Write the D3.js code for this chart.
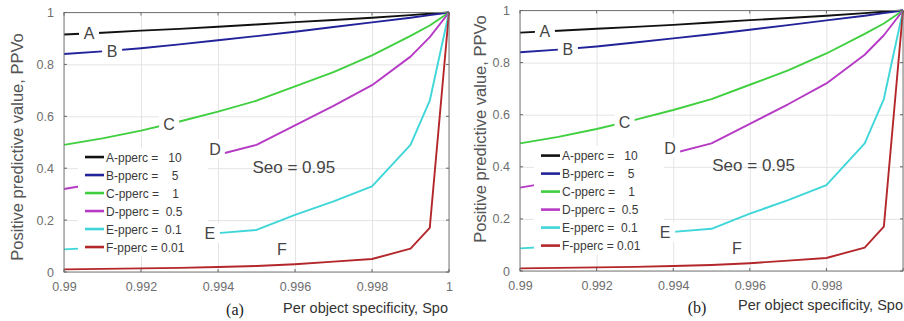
<!DOCTYPE html>
<html><head><meta charset="utf-8">
<script src="https://cdn.jsdelivr.net/npm/d3@7"></script>
<style>
html,body{margin:0;padding:0;background:#fff;}
svg{display:block;font-family:Arial,"Liberation Sans",sans-serif;}
</style></head>
<body><svg id="c" width="904" height="321"></svg>
<script>
// ---------- data ----------
const spo = [0.99, 0.991, 0.992, 0.993, 0.994, 0.995, 0.996, 0.997, 0.998, 0.999, 0.9995, 1];
const seriesA = [0.915, 0.922, 0.930, 0.937, 0.945, 0.954, 0.963, 0.971, 0.980, 0.990, 0.995, 1];
const seriesB = [0.840, 0.850, 0.862, 0.877, 0.893, 0.909, 0.926, 0.944, 0.962, 0.980, 0.990, 1];
const seriesC = [0.490, 0.515, 0.545, 0.580, 0.618, 0.660, 0.715, 0.770, 0.835, 0.910, 0.950, 1];
const seriesD = [0.320, 0.345, 0.372, 0.408, 0.452, 0.490, 0.565, 0.640, 0.720, 0.830, 0.905, 1];
const seriesE = [0.087, 0.095, 0.105, 0.122, 0.150, 0.162, 0.220, 0.272, 0.330, 0.490, 0.660, 1];
const seriesF = [0.010, 0.012, 0.014, 0.016, 0.019, 0.023, 0.030, 0.040, 0.050, 0.090, 0.170, 1];
const seriesNames = ["A", "B", "C", "D", "E", "F"];
const legendLabels = ["A-pperc =   10", "B-pperc =    5", "C-pperc =    1", "D-pperc =  0.5", "E-pperc =  0.1", "F-pperc = 0.01"];
const xTicks = [0.99, 0.992, 0.994, 0.996, 0.998, 1];
const xTickLabels = ["0.99", "0.992", "0.994", "0.996", "0.998", "1"];
const yTicks = [0, 0.2, 0.4, 0.6, 0.8, 1];
const yTickLabels = ["0", "0.2", "0.4", "0.6", "0.8", "1"];
const panelCaptions = ["(a)", "(b)"];
const annotation = "Seo = 0.95";
const xTitle = "Per object specificity, Spo";
const yTitle = "Positive predictive value, PPVo";

const allSeries = [seriesA, seriesB, seriesC, seriesD, seriesE, seriesF];
const colors = ["#111111", "#22229a", "#3fcf3f", "#b53ac4", "#3fd6d9", "#b3272a"];

const svg = d3.select("#c");
svg.append("rect").attr("width", 904).attr("height", 321).attr("fill", "#fff");

const panels = [
  {x0: 64, x1: 449, yb: 272, yt: 12.5, yl: {x: 17, y: 147}, cap: {x: 235, y: 315}, xt: {x: 283, y: 313}},
  {x0: 520, x1: 903, yb: 271, yt: 10.5, yl: {x: 480, y: 129}, cap: {x: 697, y: 313}, xt: {x: 738, y: 310}}
];

const labelX = [0.99065, 0.99125, 0.99273, 0.99392, 0.99379, 0.99566];

panels.forEach((p, pi) => {
  const x = d3.scaleLinear().domain([0.99, 1]).range([p.x0, p.x1]);
  const y = d3.scaleLinear().domain([0, 1]).range([p.yb, p.yt]);
  const g = svg.append("g");
  const W = p.x1 - p.x0, H = p.yb - p.yt;

  // grid
  const gx = g.append("g").attr("transform", `translate(0,${p.yb})`)
    .call(d3.axisBottom(x).tickValues(xTicks).tickSize(-H).tickFormat(""));
  gx.select(".domain").remove();
  gx.selectAll("line").attr("stroke", "#e4e4e4");
  const gy = g.append("g").attr("transform", `translate(${p.x0},0)`)
    .call(d3.axisLeft(y).tickValues(yTicks).tickSize(-W).tickFormat(""));
  gy.select(".domain").remove();
  gy.selectAll("line").attr("stroke", "#e4e4e4");

  // tick labels (labels beyond the picture edge are not shown, as in the source)
  const visTicks = xTicks.filter(t => x(t) + 4 < 904);
  const xl = g.append("g").attr("transform", `translate(0,${p.yb})`)
    .call(d3.axisBottom(x).tickValues(visTicks).tickSize(0).tickPadding(10)
      .tickFormat(d => xTickLabels[xTicks.indexOf(d)]));
  xl.select(".domain").remove();
  xl.selectAll("text").attr("font-size", 12.5).attr("fill", "#6e6e6e")
    .attr("font-family", "Arial, 'Liberation Sans', sans-serif");
  const yl = g.append("g").attr("transform", `translate(${p.x0},0)`)
    .call(d3.axisLeft(y).tickValues(yTicks).tickSize(0).tickPadding(10)
      .tickFormat((d, i) => yTickLabels[i]));
  yl.select(".domain").remove();
  yl.selectAll("text").attr("font-size", 12.5).attr("fill", "#6e6e6e")
    .attr("font-family", "Arial, 'Liberation Sans', sans-serif");

  // series lines
  const line = d3.line().x((d, i) => x(spo[i])).y(d => y(d));
  allSeries.forEach((s, si) => {
    g.append("path").datum(s).attr("d", line).attr("fill", "none")
      .attr("stroke", colors[si]).attr("stroke-width", 1.9).attr("stroke-linejoin", "round");
  });

  // legend background (hides lines behind it)
  g.append("rect").attr("x", p.x0 + 14).attr("y", y(0.48))
    .attr("width", 130).attr("height", y(0.062) - y(0.48)).attr("fill", "#fff");
  const lg = g.append("g");
  legendLabels.forEach((t, i) => {
    const ry = y(0.443) + i * 18;
    lg.append("line").attr("x1", p.x0 + 21).attr("x2", p.x0 + 40)
      .attr("y1", ry).attr("y2", ry).attr("stroke", colors[i]).attr("stroke-width", 2.6);
    lg.append("text").attr("x", p.x0 + 42).attr("y", ry + 4.5)
      .attr("font-size", 12).attr("fill", "#3a3a3a")
      .attr("xml:space", "preserve").style("white-space", "pre").text(t);
  });

  // inline series labels with white background
  seriesNames.forEach((n, si) => {
    const lx = x(labelX[si]);
    let ly;
    if (si === 5) ly = y(0.089);
    else if (si === 3) ly = y(0.474);
    else if (si === 4) ly = y(0.150);
    else {
      const v = d3.scaleLinear().domain(spo).range(allSeries[si])(labelX[si]);
      ly = y(v);
    }
    g.append("rect").attr("x", lx - 10).attr("y", ly - 10).attr("width", 20).attr("height", 20).attr("fill", "#fff");
    g.append("text").attr("x", lx).attr("y", ly + 6).attr("text-anchor", "middle")
      .attr("font-size", 16).attr("fill", "#454545").text(n);
  });

  g.append("text").attr("x", x(0.99597) + (pi ? 5 : 0)).attr("y", y(0.405) + 6).attr("text-anchor", "middle")
    .attr("font-size", 17).attr("fill", "#454545").text(annotation);

  // box
  g.append("rect").attr("x", p.x0).attr("y", p.yt).attr("width", W).attr("height", H)
    .attr("fill", "none").attr("stroke", "#7a7a7a").attr("stroke-width", 1);
  // inward ticks
  xTicks.forEach(t => {
    g.append("line").attr("x1", x(t)).attr("x2", x(t)).attr("y1", p.yb).attr("y2", p.yb - 3).attr("stroke", "#666");
    g.append("line").attr("x1", x(t)).attr("x2", x(t)).attr("y1", p.yt).attr("y2", p.yt + 3).attr("stroke", "#666");
  });
  yTicks.forEach(t => {
    g.append("line").attr("x1", p.x0).attr("x2", p.x0 + 3).attr("y1", y(t)).attr("y2", y(t)).attr("stroke", "#666");
    g.append("line").attr("x1", p.x1).attr("x2", p.x1 - 3).attr("y1", y(t)).attr("y2", y(t)).attr("stroke", "#666");
  });

  // titles
  g.append("text").attr("transform", `translate(${p.yl.x + 6},${p.yl.y}) rotate(-90)`)
    .attr("text-anchor", "middle").attr("font-size", 16.5).attr("fill", "#555").text(yTitle);
  g.append("text").attr("x", p.xt.x).attr("y", p.xt.y).attr("font-size", 14.5).attr("fill", "#333").text(xTitle);
  g.append("text").attr("x", p.cap.x).attr("y", p.cap.y).attr("text-anchor", "middle")
    .attr("font-family", "'Liberation Serif','Times New Roman',serif").attr("font-size", 16)
    .attr("fill", "#222").text(panelCaptions[pi]);
});
</script></body></html>
